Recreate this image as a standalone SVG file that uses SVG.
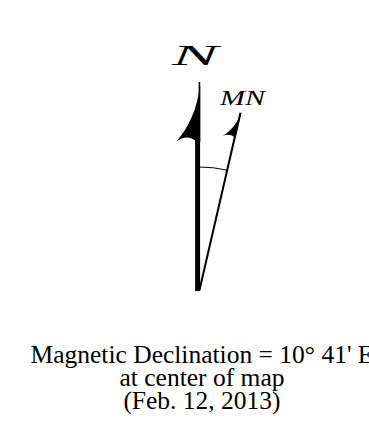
<svg xmlns="http://www.w3.org/2000/svg" width="369" height="444" viewBox="0 0 369 444">
<style>
.lbl{font-family:"Liberation Serif","Times New Roman",serif;fill:#000}
.cap{font-size:25.5px;text-anchor:middle}
.scr{font-style:italic}
</style>
<rect width="369" height="444" fill="#fff"/>
<g id="connectors">
<g id="true-north">
<line x1="199.4" y1="82" x2="199.4" y2="142" stroke="#000" stroke-width="1.6"/>
<line x1="197.6" y1="138" x2="197.6" y2="291" stroke="#000" stroke-width="5"/>
<path d="M199.8,86 C197.5,108 189,127 176.5,141.5 C183,136.5 190,136 196.5,141.5 L200.2,141.5 L200.2,86 Z" fill="#000"/>
</g>
<g id="magnetic-north" transform="translate(199.5,290) rotate(13)">
<line x1="0" y1="0" x2="0" y2="-182" stroke="#000" stroke-width="2"/>
<path d="M0.9,-183.5 C-0.5,-172 -5,-162 -12,-155.5 C-8,-158.5 -3,-159 0.9,-156 Z" fill="#000"/>
</g>
<path id="angle-arc" d="M199.5,167 A123,123 0 0 1 227.2,170.2" fill="none" stroke="#000" stroke-width="1"/>
</g>
<g id="label-N"><text class="lbl scr" x="172" y="65" font-size="30" textLength="46" lengthAdjust="spacingAndGlyphs">N</text></g>
<g id="label-MN"><text class="lbl scr" x="220" y="105" font-size="20" textLength="45" lengthAdjust="spacingAndGlyphs">MN</text></g>
<g id="caption">
<text class="lbl cap" x="202" y="363">Magnetic Declination = 10° 41' E</text>
<text class="lbl cap" x="202" y="386">at center of map</text>
<text class="lbl cap" x="202" y="409">(Feb. 12, 2013)</text>
</g>
</svg>
